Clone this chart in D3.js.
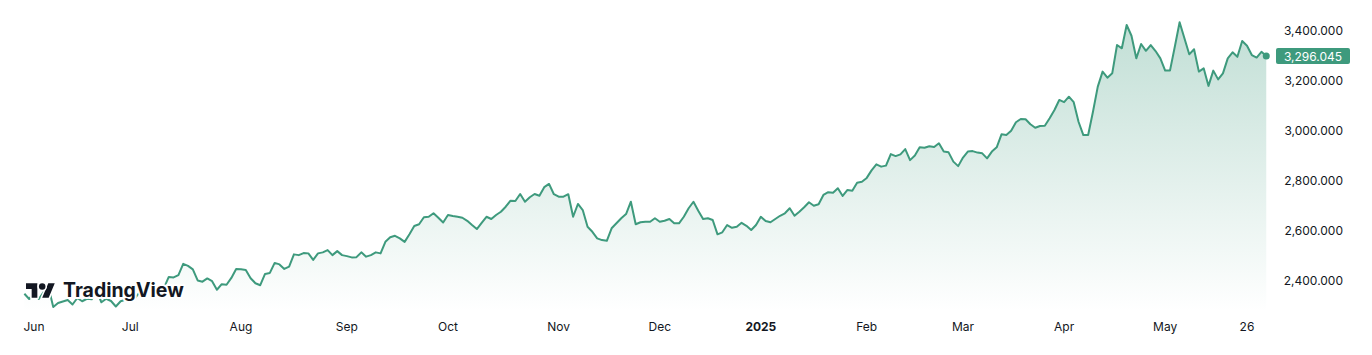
<!DOCTYPE html>
<html>
<head>
<meta charset="utf-8">
<script src="https://cdn.jsdelivr.net/npm/d3@7"></script>
<style>
  body { margin: 0; background: #fff; }
  svg { display: block; font-family: Inter, Roboto, "Noto Sans", sans-serif; }
  .tick-x { font-size: 12px; fill: #131722; }
  .tick-y { font-size: 12px; fill: #131722; }
</style>
</head>
<body>
<div id="chart"></div>
<script>
// daily closes, one per trading bar (bar 0 = first June session)
var mayTail = [2348, 2327]
var jun = [2350, 2327, 2355, 2375, 2295, 2311, 2317, 2323, 2305, 2331, 2318, 2328, 2326, 2360, 2314, 2328, 2319, 2297, 2318, 2324]
var jul = [2331, 2330, 2356, 2357, 2388, 2359, 2364, 2371, 2415, 2413, 2422, 2467, 2459, 2445, 2401, 2396, 2409, 2398, 2364, 2386, 2384, 2411, 2447]
var aug = [2446, 2443, 2410, 2390, 2382, 2427, 2431, 2471, 2465, 2447, 2456, 2505, 2502, 2510, 2509, 2483, 2509, 2513, 2522, 2502, 2518, 2502]
var sep = [2498, 2493, 2494, 2513, 2496, 2502, 2513, 2509, 2555, 2573, 2579, 2569, 2555, 2585, 2618, 2625, 2653, 2655, 2669, 2651, 2632]
var oct = [2662, 2658, 2655, 2651, 2639, 2622, 2606, 2631, 2655, 2646, 2662, 2675, 2695, 2719, 2718, 2746, 2715, 2733, 2746, 2739, 2773, 2786, 2745]
var nov = [2735, 2735, 2745, 2655, 2706, 2682, 2615, 2595, 2569, 2562, 2559, 2609, 2629, 2649, 2666, 2715, 2625, 2633, 2635, 2635, 2649]
var dec = [2635, 2639, 2646, 2629, 2629, 2655, 2689, 2715, 2679, 2646, 2649, 2642, 2585, 2593, 2622, 2611, 2615, 2631, 2619, 2602, 2622]
var jan = [2655, 2638, 2633, 2646, 2659, 2669, 2689, 2659, 2675, 2693, 2713, 2699, 2705, 2742, 2753, 2751, 2769, 2738, 2762, 2759, 2791, 2795]
var feb = [2810, 2840, 2864, 2855, 2859, 2905, 2897, 2904, 2925, 2881, 2899, 2932, 2930, 2936, 2933, 2948, 2915, 2912, 2875, 2857]
var mar = [2891, 2915, 2917, 2911, 2908, 2888, 2915, 2932, 2984, 2981, 2998, 3032, 3045, 3044, 3024, 3010, 3017, 3018, 3048, 3081, 3121]
var apr = [3112, 3134, 3112, 3034, 2981, 2981, 3074, 3174, 3234, 3210, 3227, 3340, 3327, 3420, 3377, 3287, 3344, 3317, 3340, 3316, 3287]
var may = [3238, 3238, 3333, 3431, 3367, 3303, 3323, 3234, 3247, 3177, 3238, 3203, 3227, 3287, 3311, 3293, 3356, 3337, 3300, 3290, 3313, 3296.045]

var tickLabels = ['Jun', 'Jul', 'Aug', 'Sep', 'Oct', 'Nov', 'Dec', '2025', 'Feb', 'Mar', 'Apr', 'May', '26']
var tickBars = [0, 20, 43, 65, 86, 109, 130, 151, 173, 193, 214, 235, 252]
var priceTicks = [2400, 2600, 2800, 3000, 3200, 3400]
var lastPrice = 3296.045

var closes = mayTail.concat(jun, jul, aug, sep, oct, nov, dec, jan, feb, mar, apr, may)
var data = closes.map(function(v, i) { return {bar: i - mayTail.length, close: v} })

var width = 1372
var height = 355
var green = '#3e9a7d'
var plotBottom = 312

var x = d3.scaleLinear().domain([0, 252]).range([34, 1247])
var y = d3.scaleLinear().domain([2400, 3400]).range([280.7, 30])

var svg = d3.select('#chart').append('svg').attr('width', width).attr('height', height)

var grad = svg.append('defs').append('linearGradient')
  .attr('id', 'fillGrad').attr('gradientUnits', 'userSpaceOnUse')
  .attr('x1', 0).attr('x2', 0).attr('y1', 22).attr('y2', plotBottom)
grad.append('stop').attr('offset', 0).attr('stop-color', green).attr('stop-opacity', 0.32)
grad.append('stop').attr('offset', 1).attr('stop-color', green).attr('stop-opacity', 0.0)

var area = d3.area().x(d => x(d.bar)).y0(plotBottom).y1(d => y(d.close))
var line = d3.line().x(d => x(d.bar)).y(d => y(d.close))

svg.append('path').datum(data).attr('d', area).attr('fill', 'url(#fillGrad)')
svg.append('path').datum(data).attr('d', line)
  .attr('fill', 'none').attr('stroke', green).attr('stroke-width', 2)
  .attr('stroke-linejoin', 'round')

var last = data[data.length - 1]
svg.append('circle').attr('cx', x(last.bar)).attr('cy', y(last.close)).attr('r', 3.5).attr('fill', green)

// price scale
svg.append('g').selectAll('text').data(priceTicks).join('text')
  .attr('class', 'tick-y')
  .attr('x', 1343).attr('y', d => y(d))
  .attr('text-anchor', 'end').attr('dominant-baseline', 'central')
  .text(d => d3.format(',.3f')(d))

var badge = svg.append('g')
badge.append('rect').attr('x', 1276).attr('y', y(lastPrice) - 8).attr('width', 74).attr('height', 16)
  .attr('rx', 2).attr('fill', green)
badge.append('text').attr('x', 1313).attr('y', y(lastPrice))
  .attr('text-anchor', 'middle').attr('dominant-baseline', 'central')
  .attr('fill', '#fff').style('font-size', '12px')
  .text(d3.format(',.3f')(lastPrice))

// time scale
svg.append('g').selectAll('text').data(tickBars).join('text')
  .attr('class', 'tick-x')
  .attr('x', d => x(d)).attr('y', 326.5)
  .attr('text-anchor', 'middle').attr('dominant-baseline', 'central')
  .style('font-weight', (d, i) => tickLabels[i] == '2025' ? 700 : 400)
  .text((d, i) => tickLabels[i])

// watermark logo, white halo hides the line behind it
var logo = svg.append('g').attr('transform', 'translate(26,280)')
  .attr('stroke', '#fff').attr('stroke-width', 4).attr('stroke-linejoin', 'round')
  .style('paint-order', 'stroke')
logo.append('g').attr('transform', 'scale(0.81)').attr('fill', '#131722')
  .call(function(g) {
    g.append('path').attr('d', 'M14 22H7V11H0V4h14v18zM28 22h-8l7.5-18h8L28 22z')
    g.append('circle').attr('cx', 20).attr('cy', 8).attr('r', 4)
  })
logo.append('text').attr('x', 37).attr('y', 17)
  .attr('fill', '#131722').style('font-size', '19.5px').style('font-weight', 700)
  .style('letter-spacing', '0px')
  .text('TradingView')
</script>
</body>
</html>
